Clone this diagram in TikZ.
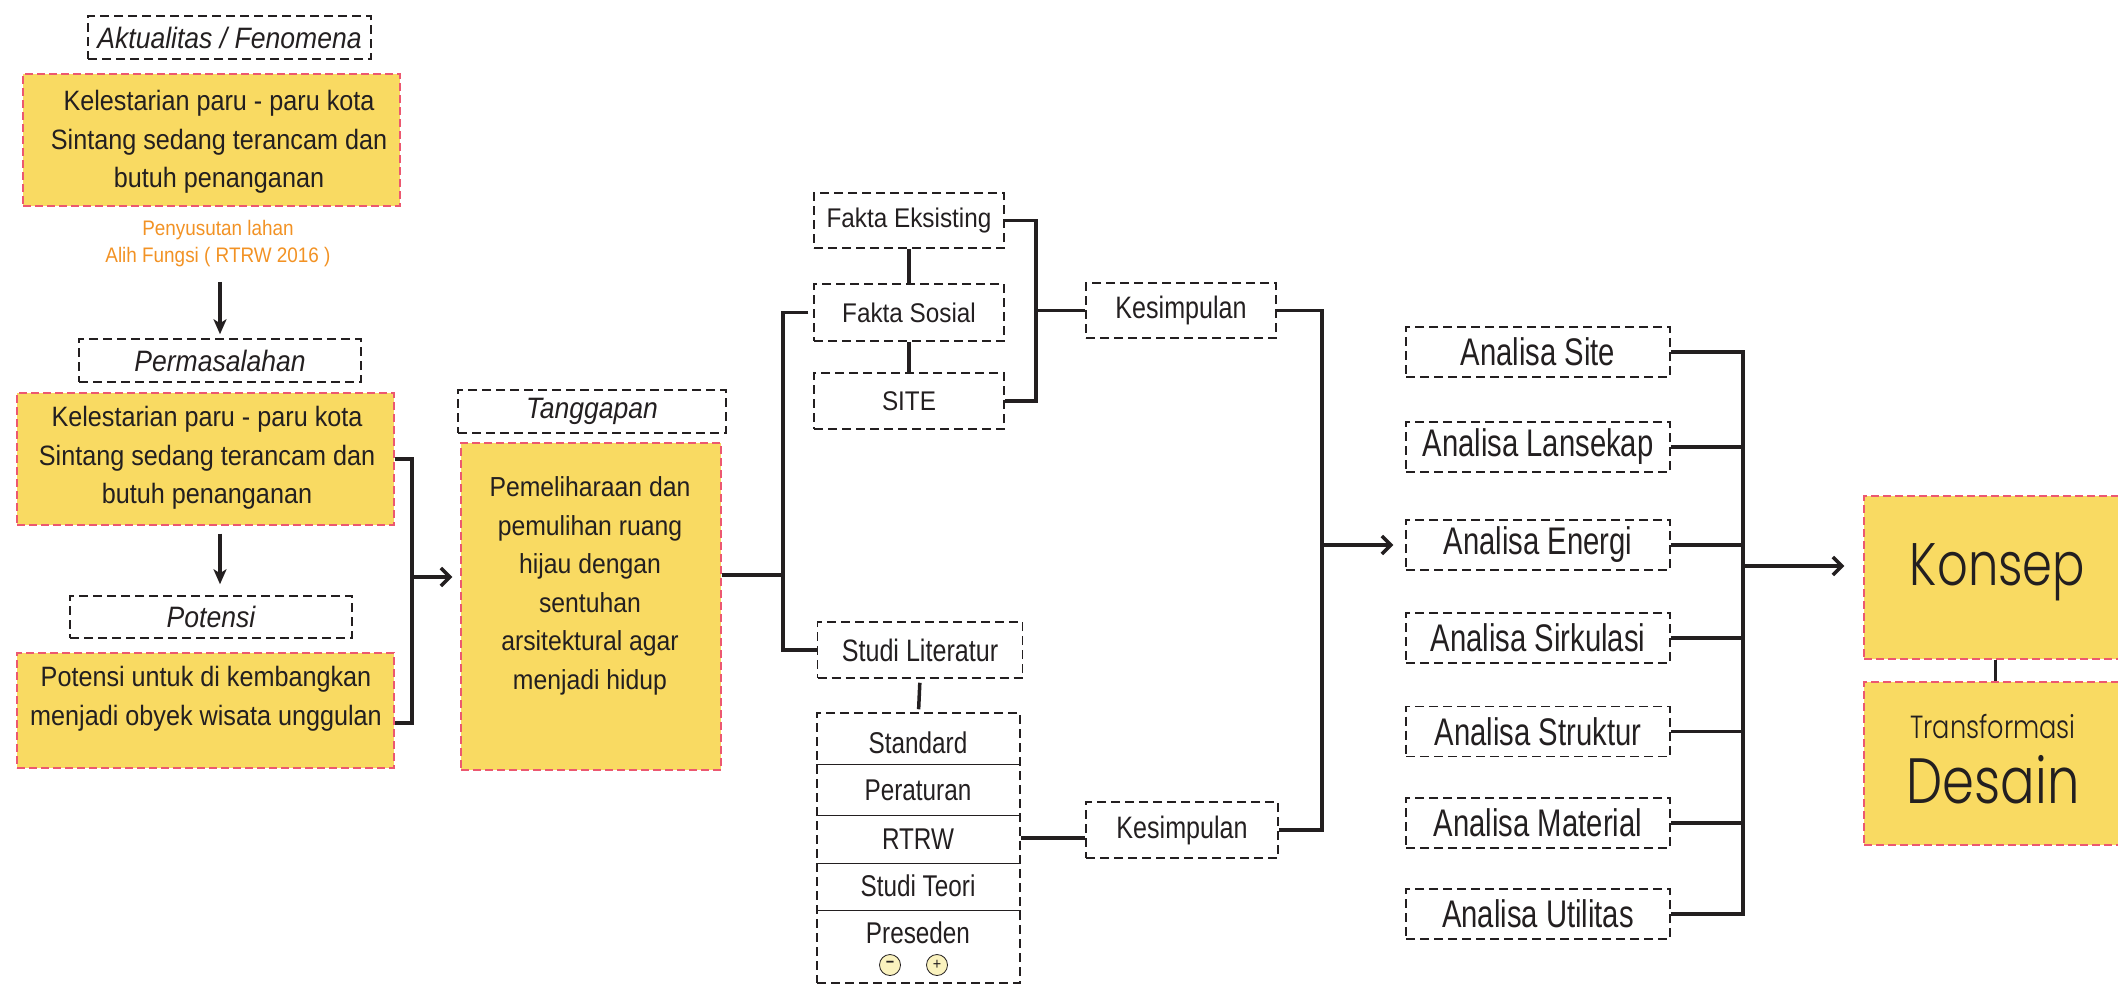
\documentclass[tikz,border=0pt]{standalone}
\usepackage{fontspec}
\setmainfont{Liberation Sans}
\newfontfamily\fa{Liberation Sans}[FakeStretch=0.9]
\newfontfamily\fb{Liberation Sans}[FakeStretch=0.76]
\newfontfamily\fc{Liberation Sans}[FakeStretch=0.81]
\newfontfamily\fg{Poppins Light}[FakeStretch=0.8]
\usetikzlibrary{arrows.meta,calc}
\definecolor{ybox}{RGB}{249,218,98}
\definecolor{rdash}{RGB}{236,88,112}
\definecolor{otext}{RGB}{242,146,36}
\definecolor{ink}{RGB}{35,31,32}
\definecolor{cfill}{RGB}{250,242,190}
\begin{document}
\begin{tikzpicture}[x=1pt,y=-1pt,
  dbox/.style={draw=ink, line width=1.5pt, dash pattern=on 9pt off 5pt, inner sep=0pt, text=ink},
  ybx/.style={fill=ybox, draw=rdash, line width=1.3pt, dash pattern=on 8pt off 4pt, inner sep=0pt},
  ytext/.style={align=center, inner sep=0pt, text=ink, font=\fa\fontsize{28}{38.5}\selectfont},
  hdr/.style={font=\fa\itshape\fontsize{29.5}{31}\selectfont},
  small/.style={font=\fa\fontsize{27}{29}\selectfont},
  cond/.style={font=\fc\fontsize{31}{33}\selectfont},
  anl/.style={dbox, minimum width=264pt, minimum height=50pt, font=\fb\fontsize{38.5}{40}\selectfont},
  lbl/.style={anchor=base, inner sep=0pt, text=ink, font=\fc\fontsize{30}{32}\selectfont},
  conn/.style={draw=ink, line width=3.5pt},
  arr/.style={conn, -{Straight Barb[length=9pt,width=18pt]}},
  varr/.style={draw=ink, line width=4pt, -{Stealth[length=15pt,width=13pt,inset=4pt]}},
  circ/.style={circle, draw=ink, line width=0.8pt, fill=cfill, minimum size=21pt, inner sep=0pt, text=ink}
]
\useasboundingbox (0,0) rectangle (2118,985);
\clip (0,0) rectangle (2118,985);

% ---------- left column ----------
\node[dbox, hdr, minimum width=283pt, minimum height=43pt] (akt) at (229.5,37.5) {Aktualitas / Fenomena};
\node[ybx, minimum width=377pt, minimum height=132pt] (y1) at (211.5,140) {};
\node[ytext] (t1) at (219,142) {Kelestarian paru - paru kota\\Sintang sedang terancam dan\\butuh penanganan};
\node[align=center, inner sep=0pt, text=otext, font=\fa\fontsize{21}{27}\selectfont] (or) at (218,243.5) {Penyusutan lahan\\Alih Fungsi ( RTRW 2016 )};

\node[dbox, hdr, minimum width=282pt, minimum height=43pt] (perm) at (220,360.5) {Permasalahan};
\node[ybx, minimum width=377pt, minimum height=132pt] (y2) at (205.5,459) {};
\node[ytext] (t2) at (207,458) {Kelestarian paru - paru kota\\Sintang sedang terancam dan\\butuh penanganan};

\node[dbox, hdr, minimum width=282pt, minimum height=42pt] (pot) at (211,617) {Potensi};
\node[ybx, minimum width=377pt, minimum height=115pt] (y3) at (205.5,710.5) {};
\node[ytext] (t3) at (206,699) {Potensi untuk di kembangkan\\menjadi obyek wisata unggulan};

\draw[varr, shorten <=15pt, shorten >=4pt] (or.south -| perm.north) -- (perm.north);
\draw[varr, shorten <=8pt, shorten >=11pt] (y2.south -| perm.south) -- (pot.north -| perm.south);

% ---------- Tanggapan ----------
\node[dbox, hdr, minimum width=268pt, minimum height=43pt] (tang) at (592,411.5) {Tanggapan};
\node[ybx, minimum width=260pt, minimum height=327pt] (y4) at (591,606.5) {};
\node[ytext, font=\fa\fontsize{27.5}{38.5}\selectfont] (t4) at (590,586) {Pemeliharaan dan\\pemulihan ruang\\hijau dengan\\sentuhan\\arsitektural agar\\menjadi hidup};

\coordinate (j1) at (412,577);
\draw[conn] (y2.east) -| (j1) |- ([yshift=-12.5pt]y3.east);
\draw[arr, shorten >=8pt] (j1) -- (j1 -| y4.west);

% ---------- middle column ----------
\node[dbox, small, minimum width=190pt, minimum height=55pt] (fe) at (909,220.5) {Fakta Eksisting};
\node[dbox, small, minimum width=190pt, minimum height=57pt] (fs) at (909,312.5) {Fakta Sosial};
\node[dbox, small, minimum width=190pt, minimum height=56pt] (site) at (909,401) {SITE};
\node[dbox, cond, minimum width=190pt, minimum height=55pt] (kes1) at (1181,310.5) {Kesimpulan};

\node[dbox, cond, minimum width=205pt, minimum height=56pt] (sl) at (920,650) {Studi Literatur};
\node[dbox, minimum width=203pt, minimum height=270pt] (list) at (918.5,848) {};
\foreach \dy in {52,103,151,198}{
  \draw[ink, line width=1.2pt] ($(list.north west)+(0,\dy)$) -- ($(list.north east)+(0,\dy)$);
}
\node[lbl] (lstd) at (918,753) {Standard};
\node[lbl] (lper) at (918,800) {Peraturan};
\node[lbl] (rtrw) at (918,849) {RTRW};
\node[lbl] (lteo) at (918,896) {Studi Teori};
\node[lbl] (lpre) at (918,943) {Preseden};
\node[circ, font=\fa\bfseries\fontsize{16}{16}\selectfont] (cm) at (890,965) {\raisebox{1pt}{−}};
\node[circ, font=\fa\fontsize{16}{16}\selectfont] (cp) at (937,965) {\raisebox{1pt}{+}};
\node[dbox, cond, minimum width=192pt, minimum height=56pt] (kes2) at (1182,830) {Kesimpulan};

\coordinate (j2) at (783,575);
\draw[conn] (j2 -| y4.east) -- (j2);
\draw[conn] ([xshift=-5pt]fs.west) -| (j2) |- (sl.west);
\draw[conn] (fe.south) -- (fs.north);
\draw[conn] (fs.south) -- (site.north);
\coordinate (j3) at (1036,310.5);
\draw[conn] (fe.east) -| (j3) |- (site.east);
\draw[conn] (j3) -- (kes1.west);
\draw[conn, shorten <=4pt, shorten >=3pt] (sl.south) -- (list.north);
\coordinate (rr) at ($(kes2.west)+(0,8)$);
\draw[conn] (rr -| list.east) -- (rr);

\coordinate (j4) at (1322,545);
\draw[conn] (kes1.east) -| (j4) |- (kes2.east);

% ---------- Analisa ----------
\node[anl] (asite) at (1538,352) {Analisa Site};
\node[anl] (alan) at (1538,447) {Analisa Lansekap};
\node[anl] (aen) at (1538,545) {Analisa Energi};
\node[anl] (asir) at (1538,638) {Analisa Sirkulasi};
\node[anl] (astr) at (1538,731.5) {Analisa Struktur};
\node[anl] (amat) at (1538,823) {Analisa Material};
\node[anl] (autil) at (1538,914) {Analisa Utilitas};
\draw[arr, shorten >=12pt] (j4) -- (aen.west);

\coordinate (j5) at (1743,566);
\draw[conn] (asite.east) -| (j5) |- (autil.east);
\foreach \n in {alan,aen,asir,astr,amat}{
  \draw[conn] (\n.east) -- (\n.east -| j5);
}

% ---------- Konsep / Desain ----------
\node[ybx, minimum width=268pt, minimum height=163pt] (konsep) at (1998,577.5) {};
\node[ybx, minimum width=268pt, minimum height=163pt] (desain) at (1998,763.5) {};
\node[anchor=base, inner sep=0pt, text=ink, font=\fg\fontsize{60}{60}\selectfont] (tk) at (1997.5,585) {Konsep};
\node[anchor=base, inner sep=0pt, text=ink, font=\fg\fontsize{32}{32}\selectfont] (ttr) at (1993,738) {Transformasi};
\node[anchor=base, inner sep=0pt, text=ink, font=\fg\fontsize{64}{64}\selectfont] (tds) at (1993,803) {Desain};
\draw[arr, shorten >=19pt] (j5) -- (j5 -| konsep.west);
\draw[draw=ink, line width=3pt] (konsep.south -| 1995,0) -- (desain.north -| 1995,0);
\end{tikzpicture}
\end{document}
